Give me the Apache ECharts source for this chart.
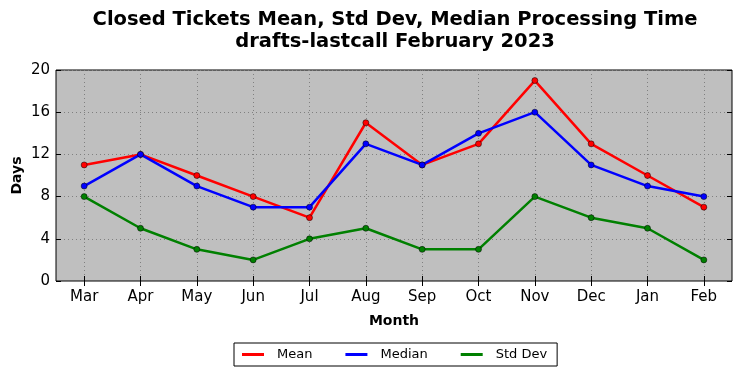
<!DOCTYPE html>
<html><head><meta charset="utf-8">
<script src="https://cdn.jsdelivr.net/npm/echarts@6/dist/echarts.min.js"></script>
<style>html,body{margin:0;padding:0;background:#fff}#c{width:742px;height:378px}</style>
</head><body><div id="c"></div>
<script>
const months = ['Mar','Apr','May','Jun','Jul','Aug','Sep','Oct','Nov','Dec','Jan','Feb'];
const meanVals = [11,12,10,8,6,15,11,13,19,13,10,7];
const medianVals = [9,12,9,7,7,13,11,14,16,11,9,8];
const stdVals = [8,5,3,2,4,5,3,3,8,6,5,2];
const yTicks = [0,4,8,12,16,20];

const font = 'DejaVu Sans';
const chart = echarts.init(document.getElementById('c'), null, {renderer:'canvas'});
function mk(name, data, color){
  return {name, type:'line', data, symbol:'circle', symbolSize:6,
    lineStyle:{color, width:2.5}, itemStyle:{color, borderColor:'#000', borderWidth:0.5},
    emphasis:{disabled:true}, animation:false};
}
chart.setOption({
  animation:false,
  textStyle:{fontFamily:font},
  title:{text:'Closed Tickets Mean, Std Dev, Median Processing Time\ndrafts-lastcall February 2023',
    left:390, textAlign:'center', top:4,
    textStyle:{fontFamily:font, fontSize:19.5, fontWeight:'bold', color:'#000', lineHeight:22}},
  legend:{left:234, top:343, orient:'horizontal',
    data:['Mean','Median','Std Dev'],
    itemWidth:22, itemHeight:3, itemGap:33, icon:'rect',
    itemStyle:{borderWidth:0},
    borderColor:'#000', borderWidth:1, padding:[5,10,5,8],
    textStyle:{fontFamily:font, fontSize:13, color:'#000', padding:[0,0,0,8]}},
  grid:{left:56, right:10, top:70, bottom:97, outerBoundsMode:'none', containLabel:false,
    show:true, backgroundColor:'#bfbfbf', borderColor:'#000', borderWidth:1},
  xAxis:[{type:'category', data:months, boundaryGap:true,
    name:'Month', nameLocation:'middle', nameGap:33,
    nameTextStyle:{fontFamily:font, fontSize:14, fontWeight:'bold', color:'#000'},
    axisLine:{show:false},
    axisTick:{show:true, inside:true, alignWithLabel:true, length:5, lineStyle:{color:'#000'}},
    axisLabel:{fontFamily:font, fontSize:15, color:'#000', margin:9},
    splitLine:{show:true, alignWithLabel:true, lineStyle:{color:'#808080', type:[1,3], width:1}}},
   {type:'category', data:months, position:'top', boundaryGap:true,
    axisLine:{show:false}, axisLabel:{show:false},
    axisTick:{show:true, inside:true, alignWithLabel:true, length:5, lineStyle:{color:'#000'}}}],
  yAxis:[{type:'value', min:0, max:20, interval:4,
    name:'Days', nameLocation:'middle', nameGap:32, nameMoveOverlap:false,
    nameTextStyle:{fontFamily:font, fontSize:14, fontWeight:'bold', color:'#000'},
    axisLine:{show:false},
    axisTick:{show:true, inside:true, length:5, lineStyle:{color:'#000'}},
    axisLabel:{fontFamily:font, fontSize:15, color:'#000', margin:6,
      formatter:v=>yTicks.includes(v)?String(v):''},
    splitLine:{show:true, lineStyle:{color:'#808080', type:[1,3], width:1}}},
   {type:'value', min:0, max:20, interval:4, position:'right',
    axisLine:{show:false}, axisLabel:{show:false}, splitLine:{show:false},
    axisTick:{show:true, inside:true, length:5, lineStyle:{color:'#000'}}}],
  series:[mk('Mean', meanVals, '#ff0000'), mk('Median', medianVals, '#0000ff'), mk('Std Dev', stdVals, '#008000')]
});
</script></body></html>
